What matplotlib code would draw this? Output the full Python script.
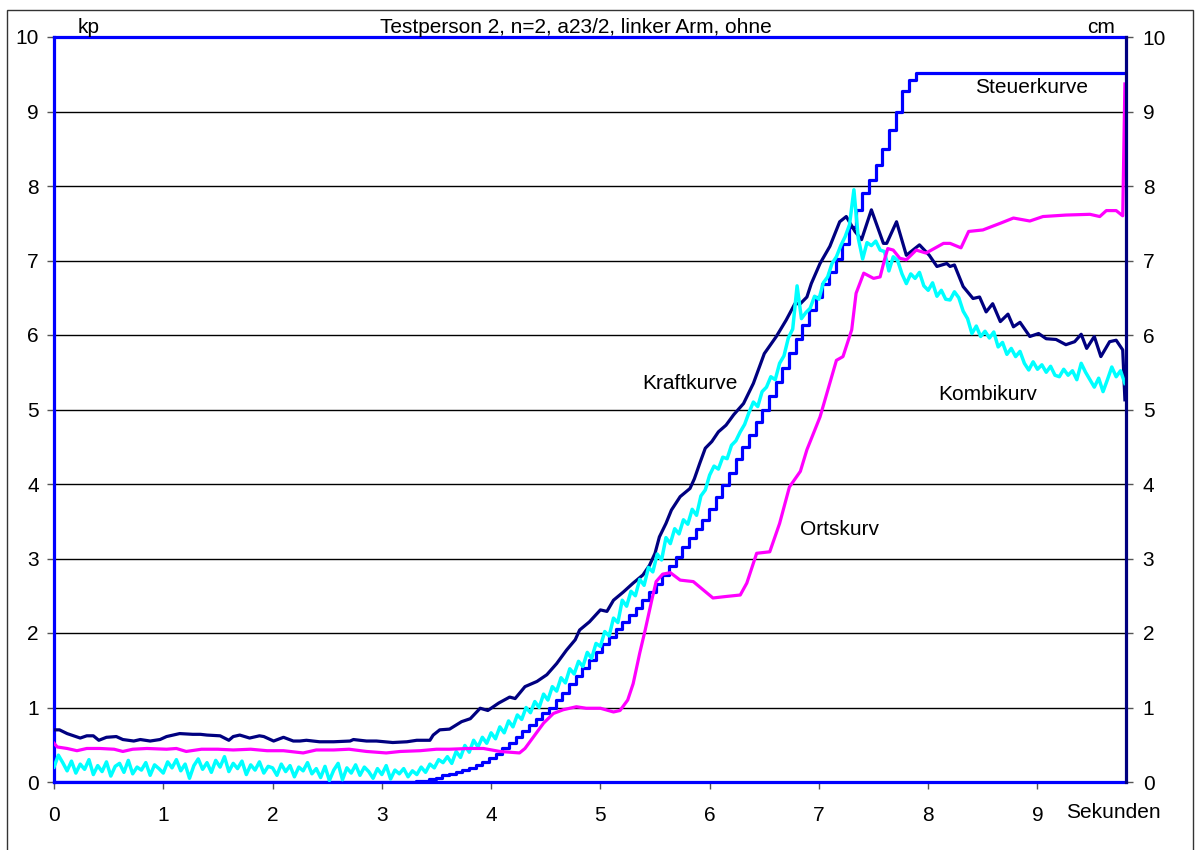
import numpy as np
import matplotlib
matplotlib.use("Agg")
import matplotlib.pyplot as plt
from matplotlib.patches import Rectangle

plt.rcParams['font.family'] = ['Liberation Sans', 'DejaVu Sans']

# Kraftkurve [kp]
kraft_t = [0.00, 0.05, 0.12, 0.16, 0.24, 0.30, 0.36, 0.41, 0.48, 0.57, 0.63, 0.73, 0.79, 0.88, 0.97,
           1.03, 1.15, 1.27, 1.34, 1.40, 1.52, 1.60, 1.64, 1.70, 1.79, 1.88, 1.92, 2.01, 2.10, 2.19,
           2.25, 2.31, 2.43, 2.56, 2.71, 2.74, 2.80, 2.86, 2.95, 3.10, 3.23, 3.32, 3.44, 3.47, 3.53,
           3.62, 3.73, 3.81, 3.90, 3.97, 4.07, 4.17, 4.22, 4.31, 4.42, 4.51, 4.60, 4.69, 4.77, 4.81,
           4.90, 5.00, 5.06, 5.12, 5.21, 5.30, 5.39, 5.45, 5.50, 5.54, 5.60, 5.65, 5.73, 5.82, 5.86,
           5.91, 5.96, 6.02, 6.08, 6.15, 6.22, 6.31, 6.40, 6.50, 6.61, 6.70, 6.78, 6.83, 6.89, 6.93,
           7.01, 7.10, 7.19, 7.25, 7.33, 7.39, 7.48, 7.59, 7.62, 7.71, 7.80, 7.92, 8.01, 8.08, 8.17,
           8.20, 8.24, 8.32, 8.41, 8.47, 8.53, 8.59, 8.66, 8.73, 8.78, 8.84, 8.93, 9.01, 9.08, 9.17,
           9.26, 9.34, 9.40, 9.45, 9.52, 9.58, 9.66, 9.72, 9.78, 9.80]
kraft_v = [0.70, 0.70, 0.65, 0.63, 0.59, 0.62, 0.62, 0.56, 0.60, 0.61, 0.57, 0.55, 0.57, 0.55, 0.57,
           0.61, 0.65, 0.64, 0.64, 0.63, 0.62, 0.56, 0.61, 0.63, 0.59, 0.62, 0.61, 0.55, 0.60, 0.55,
           0.55, 0.56, 0.54, 0.54, 0.55, 0.57, 0.56, 0.55, 0.55, 0.53, 0.54, 0.56, 0.56, 0.63, 0.70,
           0.71, 0.81, 0.85, 0.99, 0.96, 1.06, 1.14, 1.12, 1.28, 1.35, 1.44, 1.59, 1.77, 1.91, 2.04,
           2.15, 2.31, 2.29, 2.44, 2.55, 2.67, 2.78, 2.91, 3.07, 3.29, 3.47, 3.65, 3.83, 3.94, 4.07,
           4.28, 4.48, 4.57, 4.70, 4.79, 4.93, 5.08, 5.35, 5.75, 5.98, 6.20, 6.42, 6.42, 6.51, 6.69,
           6.96, 7.19, 7.52, 7.59, 7.39, 7.28, 7.68, 7.23, 7.23, 7.52, 7.07, 7.21, 7.07, 6.92, 6.96,
           6.92, 6.94, 6.65, 6.49, 6.51, 6.31, 6.42, 6.18, 6.28, 6.11, 6.17, 5.98, 6.02, 5.95, 5.94,
           5.87, 5.91, 6.01, 5.82, 5.98, 5.71, 5.91, 5.93, 5.80, 5.13]

# Ortskurv [cm]
orts_t = [0.00, 0.03, 0.12, 0.21, 0.30, 0.42, 0.55, 0.63, 0.72, 0.85, 1.03, 1.12, 1.21, 1.35, 1.50,
          1.64, 1.80, 1.95, 2.10, 2.28, 2.40, 2.56, 2.70, 2.86, 3.04, 3.17, 3.35, 3.50, 3.62, 3.80,
          3.93, 4.08, 4.26, 4.31, 4.39, 4.48, 4.57, 4.66, 4.78, 4.87, 5.00, 5.12, 5.18, 5.25, 5.30,
          5.36, 5.41, 5.47, 5.51, 5.57, 5.64, 5.73, 5.85, 5.94, 6.03, 6.15, 6.28, 6.34, 6.43, 6.55,
          6.64, 6.73, 6.83, 6.89, 7.01, 7.16, 7.22, 7.30, 7.34, 7.41, 7.50, 7.56, 7.60, 7.63, 7.68,
          7.74, 7.80, 7.89, 7.98, 8.14, 8.20, 8.30, 8.37, 8.50, 8.66, 8.78, 8.93, 9.05, 9.26, 9.48,
          9.57, 9.63, 9.72, 9.78, 9.80]
orts_v = [0.52, 0.47, 0.45, 0.42, 0.45, 0.45, 0.44, 0.41, 0.44, 0.45, 0.44, 0.45, 0.41, 0.44, 0.44,
          0.43, 0.44, 0.42, 0.42, 0.39, 0.43, 0.43, 0.44, 0.41, 0.39, 0.41, 0.42, 0.44, 0.44, 0.45,
          0.45, 0.41, 0.39, 0.45, 0.61, 0.79, 0.92, 0.97, 1.01, 0.99, 0.99, 0.94, 0.96, 1.10, 1.32,
          1.73, 2.04, 2.44, 2.69, 2.79, 2.81, 2.71, 2.69, 2.58, 2.47, 2.49, 2.51, 2.67, 3.07, 3.09,
          3.47, 3.96, 4.17, 4.46, 4.90, 5.66, 5.71, 6.07, 6.56, 6.83, 6.76, 6.78, 7.01, 7.16, 7.14,
          7.03, 7.01, 7.14, 7.10, 7.23, 7.23, 7.17, 7.39, 7.41, 7.50, 7.57, 7.53, 7.59, 7.61, 7.62,
          7.59, 7.67, 7.67, 7.60, 9.37]

# Kombikurv [kp], sampled every 0.04 s from t = 0
kombi_dt = 0.04
kombi_v = [0.20, 0.36, 0.26, 0.15, 0.28, 0.12, 0.24, 0.17, 0.30, 0.10,
           0.22, 0.14, 0.27, 0.08, 0.21, 0.25, 0.13, 0.29, 0.11, 0.20,
           0.16, 0.26, 0.09, 0.23, 0.18, 0.12, 0.27, 0.19, 0.30, 0.15,
           0.24, 0.05, 0.22, 0.31, 0.17, 0.26, 0.13, 0.29, 0.20, 0.34,
           0.14, 0.25, 0.18, 0.28, 0.10, 0.23, 0.16, 0.27, 0.12, 0.21,
           0.19, 0.09, 0.24, 0.14, 0.22, 0.07, 0.20, 0.15, 0.26, 0.11,
           0.18, 0.06, 0.21, 0.02, 0.16, 0.25, 0.03, 0.19, 0.12, 0.23,
           0.09, 0.20, 0.14, 0.05, 0.18, 0.10, 0.22, 0.04, 0.16, 0.11,
           0.18, 0.07, 0.15, 0.10, 0.20, 0.13, 0.24, 0.19, 0.30, 0.26,
           0.34, 0.25, 0.41, 0.33, 0.49, 0.40, 0.56, 0.47, 0.60, 0.52,
           0.66, 0.58, 0.74, 0.66, 0.82, 0.74, 0.90, 0.84, 1.00, 0.93,
           1.08, 1.00, 1.18, 1.10, 1.28, 1.22, 1.40, 1.33, 1.52, 1.45,
           1.62, 1.55, 1.74, 1.66, 1.86, 1.82, 2.02, 1.96, 2.20, 2.14,
           2.44, 2.36, 2.56, 2.50, 2.72, 2.64, 2.88, 2.82, 3.06, 2.98,
           3.28, 3.20, 3.40, 3.33, 3.52, 3.46, 3.66, 3.58, 3.84, 3.92,
           4.12, 4.24, 4.20, 4.36, 4.34, 4.52, 4.58, 4.70, 4.80, 4.96,
           5.10, 5.04, 5.24, 5.30, 5.44, 5.40, 5.62, 5.72, 5.96, 6.08,
           6.66, 6.22, 6.30, 6.36, 6.52, 6.48, 6.70, 6.78, 6.96, 7.05,
           7.20, 7.32, 7.48, 7.95, 7.30, 7.02, 7.24, 7.20, 7.26, 7.14,
           7.12, 6.86, 7.05, 7.00, 6.82, 6.69, 6.82, 6.76, 6.84, 6.66,
           6.60, 6.70, 6.52, 6.60, 6.48, 6.47, 6.58, 6.50, 6.32, 6.22,
           6.02, 6.12, 5.98, 6.05, 5.96, 6.04, 5.84, 5.90, 5.74, 5.82,
           5.71, 5.78, 5.62, 5.53, 5.64, 5.54, 5.60, 5.50, 5.58, 5.46,
           5.44, 5.54, 5.46, 5.52, 5.40, 5.62, 5.50, 5.40, 5.30, 5.42,
           5.24, 5.40, 5.57, 5.44, 5.52, 5.35]

# Steuerkurve [cm], one step every 0.061 s starting at 3.25 s
steuer_start = 3.25
steuer_dt = 0.061
steuer_v = [0.00, 0.01, 0.02, 0.04, 0.06, 0.09, 0.11, 0.13, 0.16, 0.19,
            0.23, 0.27, 0.32, 0.38, 0.45, 0.53, 0.61, 0.69, 0.77, 0.85,
            0.92, 1.00, 1.10, 1.20, 1.31, 1.42, 1.53, 1.64, 1.75, 1.85,
            1.95, 2.05, 2.15, 2.24, 2.34, 2.44, 2.55, 2.66, 2.78, 2.90,
            3.02, 3.15, 3.27, 3.39, 3.52, 3.66, 3.82, 3.98, 4.15, 4.33,
            4.50, 4.66, 4.83, 5.00, 5.18, 5.37, 5.56, 5.76, 5.95, 6.14,
            6.33, 6.51, 6.68, 6.85, 7.02, 7.22, 7.45, 7.68, 7.90, 8.08,
            8.28, 8.50, 8.75, 9.00, 9.28, 9.42, 9.52]
t_end = 9.80

W, H = 1196, 850
fig = plt.figure(figsize=(W / 100, H / 100), dpi=100)
fig.patch.set_facecolor('white')
fig.add_artist(Rectangle((7 / W, -0.02), (1193 - 7) / W, 1.02 - 10 / H,
                         transform=fig.transFigure, fill=False,
                         edgecolor='#333333', lw=1.0))

ax = fig.add_axes([54 / W, 1 - 782 / H, (1126 - 54) / W, (782 - 37) / H])
ax.set_xlim(0, 9.81)
ax.set_ylim(0, 10)
ax.set_xticks(range(10))
ax.set_yticks(range(11))
for y in range(1, 10):
    ax.axhline(y, color='black', lw=1.0, zorder=0.5)

steuer_t = [0.0] + [steuer_start + i * steuer_dt for i in range(len(steuer_v))] + [t_end]
steuer_y = [0.0] + steuer_v + [steuer_v[-1]]
kombi_t = np.arange(len(kombi_v)) * kombi_dt

ax.plot(steuer_t, steuer_y, color='#0000FF', lw=2.3, drawstyle='steps-post', zorder=3)
ax.plot(kraft_t, kraft_v, color='#000080', lw=2.3, zorder=4)
ax.plot(kombi_t, kombi_v, color='#00FFFF', lw=2.5, zorder=5)
ax.plot(orts_t, orts_v, color='#FF00FF', lw=2.3, zorder=6)

for side in ['left', 'top', 'bottom']:
    ax.spines[side].set_color('#0000FF')
    ax.spines[side].set_linewidth(2.3)
ax.spines['right'].set_visible(False)

ax.tick_params(axis='y', direction='out', length=5, width=1, color='#555555',
               pad=6, labelsize=15)
ax.tick_params(axis='x', direction='out', length=5, width=1, color='#555555',
               pad=12, labelsize=15)

ax2 = ax.twinx()
ax2.set_ylim(0, 10)
ax2.set_yticks(range(11))
for side in ['left', 'top', 'bottom']:
    ax2.spines[side].set_visible(False)
ax2.spines['right'].set_color('#000080')
ax2.spines['right'].set_linewidth(2.3)
ax2.tick_params(axis='y', direction='out', length=5, width=1, color='#555555',
                pad=7, labelsize=15)

ax.text(5.385, 5.275, 'Kraftkurve', fontsize=15, va='baseline', ha='left', zorder=10)
ax.text(8.43, 9.25, 'Steuerkurve', fontsize=15, va='baseline', ha='left', zorder=10)
ax.text(8.09, 5.13, 'Kombikurv', fontsize=15, va='baseline', ha='left', zorder=10)
ax.text(6.83, 3.32, 'Ortskurv', fontsize=15, va='baseline', ha='left', zorder=10)

fig.text(78 / W, 1 - 33 / H, 'kp', fontsize=15, va='baseline', ha='left')
fig.text(576 / W, 1 - 33 / H, 'Testperson 2, n=2, a23/2, linker Arm, ohne',
         fontsize=15, va='baseline', ha='center')
fig.text(1115 / W, 1 - 33 / H, 'cm', fontsize=15, va='baseline', ha='right')
fig.text(1066 / W, 1 - 818 / H, 'Sekunden', fontsize=15, va='baseline', ha='left')

fig.savefig('out.png', dpi=100)
